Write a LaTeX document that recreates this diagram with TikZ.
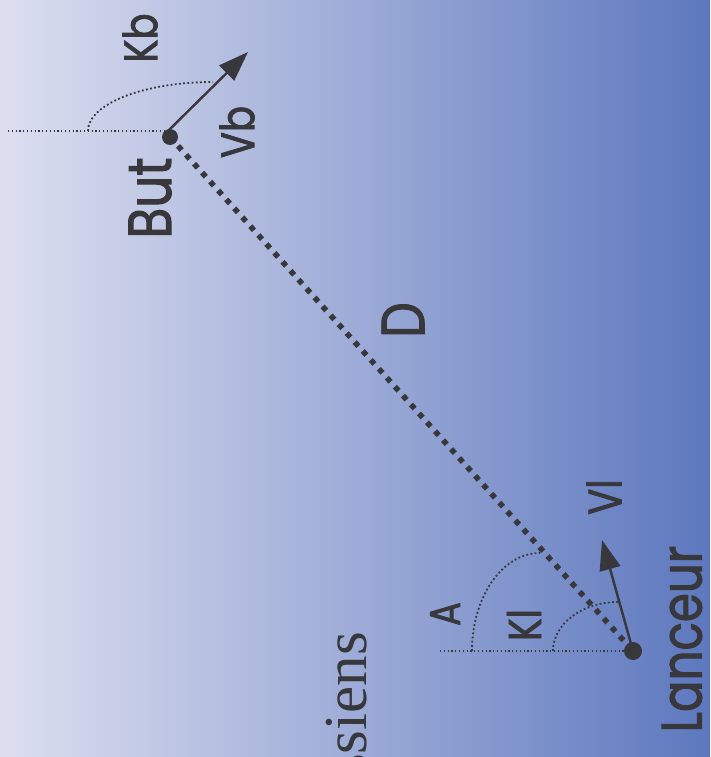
\documentclass[tikz,border=0pt]{standalone}
\usepackage{fontspec}
\setmainfont[FakeStretch=0.82, FakeBold=1.6]{Poppins}
\newfontfamily\seriftexte{Liberation Serif}
\usetikzlibrary{arrows.meta}

\definecolor{fondgauche}{RGB}{221,223,240}
\definecolor{fonddroite}{RGB}{93,120,190}
\definecolor{encre}{RGB}{55,55,60}

\begin{document}
\begin{tikzpicture}[
    x=1pt, y=-1pt,
    point/.style={circle, fill=encre, inner sep=0pt, minimum size=#1},
    etiquette/.style={rotate=90, text=encre, inner sep=0pt, font=\fontsize{#1}{#1}\selectfont},
    ligneD/.style={encre, line width=5.5pt, dash pattern=on 5.5pt off 6.5pt},
    repere/.style={encre, line width=1.2pt, dash pattern=on 1.2pt off 2.6pt},
    arcangle/.style={encre, line width=1.8pt, dash pattern=on 1.8pt off 2.4pt},
    vecteur/.style={encre, line width=2.4pt, -{Triangle[length=30pt, width=21pt]}}
  ]

  % Fond
  \clip (0,0) rectangle (710,757);
  \shade[left color=fondgauche, right color=fonddroite] (0,0) rectangle (710,757);

  % Points de repere
  \coordinate (ob) at (168,131);
  \coordinate (refb) at (8,131);
  \coordinate (vbtip) at (248,52);
  \coordinate (lb) at (633,651);
  \coordinate (refl) at (440,651);
  \coordinate (vltip) at (602,540);

  % Distance
  \draw [ligneD] (170,137) -- (lb);
  \node (but) [point=16pt] at (170,137) {};
  \node (lanceur) [point=18pt] at (lb) {};

  % Reperes et angles
  \draw [repere] (refb) -- (ob);
  \draw [repere] (refl) -- (lanceur.center);
  \draw [arcangle] (88,131) arc[start angle=180, end angle=270, x radius=125, y radius=49];
  \draw [arcangle] (472,651) arc[start angle=180, end angle=270, x radius=68, y radius=98];
  \draw [arcangle] (553,651) arc[start angle=180, end angle=270, x radius=65, y radius=49];

  % Vitesses
  \draw [vecteur] (ob) -- (vbtip);
  \draw [vecteur] (lanceur.center) -- (vltip);

  % Textes
  \node (kb) [etiquette=47] at (140,38) {Kb};
  \node (vb) [etiquette=47] at (237,132) {Vb};
  \node (nombut) [etiquette=61] at (150,198) {But};
  \node (d) [etiquette=61] at (403,320) {D};
  \node (a) [etiquette=43] at (445,614) {A};
  \node (kl) [etiquette=46] at (524,625) {Kl};
  \node (vl) [etiquette=47] at (604,497) {Vl};
  \node (nomlanceur) [etiquette=57] at (682,639) {Lanceur};
  \node (physiciens) [rotate=90, text=encre, inner sep=0pt, anchor=base east,
    font=\seriftexte\fontsize{61}{61}\selectfont] at (366,632) {ssiens};

\end{tikzpicture}
\end{document}
